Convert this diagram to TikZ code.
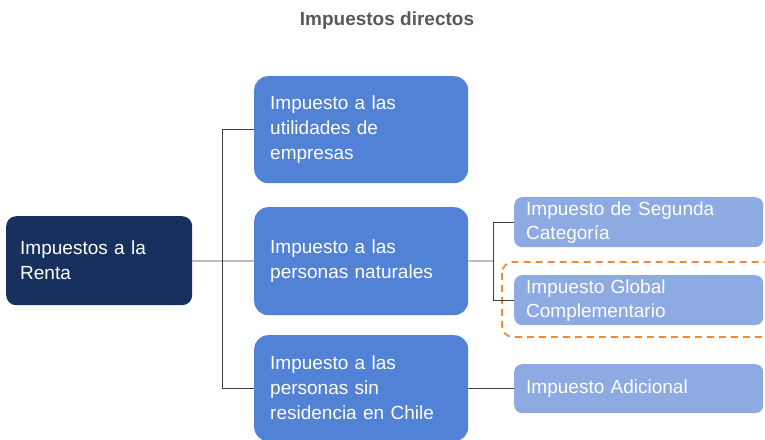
\documentclass[tikz,border=0pt]{standalone}
\usepackage{fontspec}
\setmainfont{Liberation Sans}
\usepackage{tikz}
\usetikzlibrary{positioning}

\definecolor{navy}{HTML}{17305E}
\definecolor{midblue}{HTML}{5282D6}
\definecolor{lightblue}{HTML}{8DAAE2}
\definecolor{titlegray}{HTML}{595959}
\definecolor{linegray}{HTML}{404040}
\definecolor{dashorange}{HTML}{F58A3A}

\begin{document}
\begin{tikzpicture}[x=1pt,y=-1pt,
        every node/.style={font=\fontsize{19}{25}\selectfont},
        box/.style={anchor=north west, text=white, align=left, inner ysep=0pt},
        rootbox/.style={box, fill=navy, rounded corners=10pt, inner xsep=14pt,
                minimum width=186pt, text width=158pt},
        midbox/.style={box, fill=midblue, rounded corners=14pt, inner xsep=16pt,
                minimum width=214pt, text width=182pt},
        leafbox/.style={box, fill=lightblue, rounded corners=8pt, inner xsep=12pt,
                minimum width=249pt, text width=225pt,
                font=\fontsize{19}{24}\selectfont},
        conn/.style={draw=linegray, line width=0.8pt}]
        \useasboundingbox (0,0) rectangle (765,439);

        \node[font=\fontsize{19}{23}\selectfont\bfseries, text=titlegray] (title) at (387,21) {Impuestos directos};

        % level 1
        \node[rootbox, minimum height=89pt] (renta) at (6,216) {Impuestos a la\\Renta};

        % level 2
        \node[midbox, minimum height=107pt] (utilidades) at (254,76) {Impuesto a las\\utilidades de\\empresas};
        \node[midbox, minimum height=108pt] (naturales) at (254,207) {Impuesto a las\\personas naturales};
        \node[midbox, minimum height=106pt] (sinres) at (254,335) {Impuesto a las\\personas sin\\residencia en Chile};

        % level 3
        \node[leafbox, minimum height=50pt] (segunda) at (514,197) {Impuesto de Segunda\\Categoría};
        \node[leafbox, minimum height=50pt] (global) at (514,275) {Impuesto Global\\Complementario};
        \node[leafbox, minimum height=49pt] (adicional) at (514,364) {Impuesto Adicional};

        \draw[dashorange, line width=1.8pt, dash pattern=on 7pt off 5pt, rounded corners=11pt]
                (502,262) rectangle (790,337);

        % connectors
        \coordinate (split-renta) at (222,261);
        \coordinate (split-nat) at (493,261);
        \draw[conn] (renta) -- (split-renta);
        \draw[conn] (split-renta) |- (utilidades);
        \draw[conn] (split-renta) -- (naturales);
        \draw[conn] (split-renta) |- (sinres);
        \draw[conn] (naturales) -- (split-nat);
        \draw[conn] (split-nat) |- (segunda);
        \draw[conn] (split-nat) |- (global);
        \draw[conn] (sinres) -- (adicional);
\end{tikzpicture}
\end{document}
